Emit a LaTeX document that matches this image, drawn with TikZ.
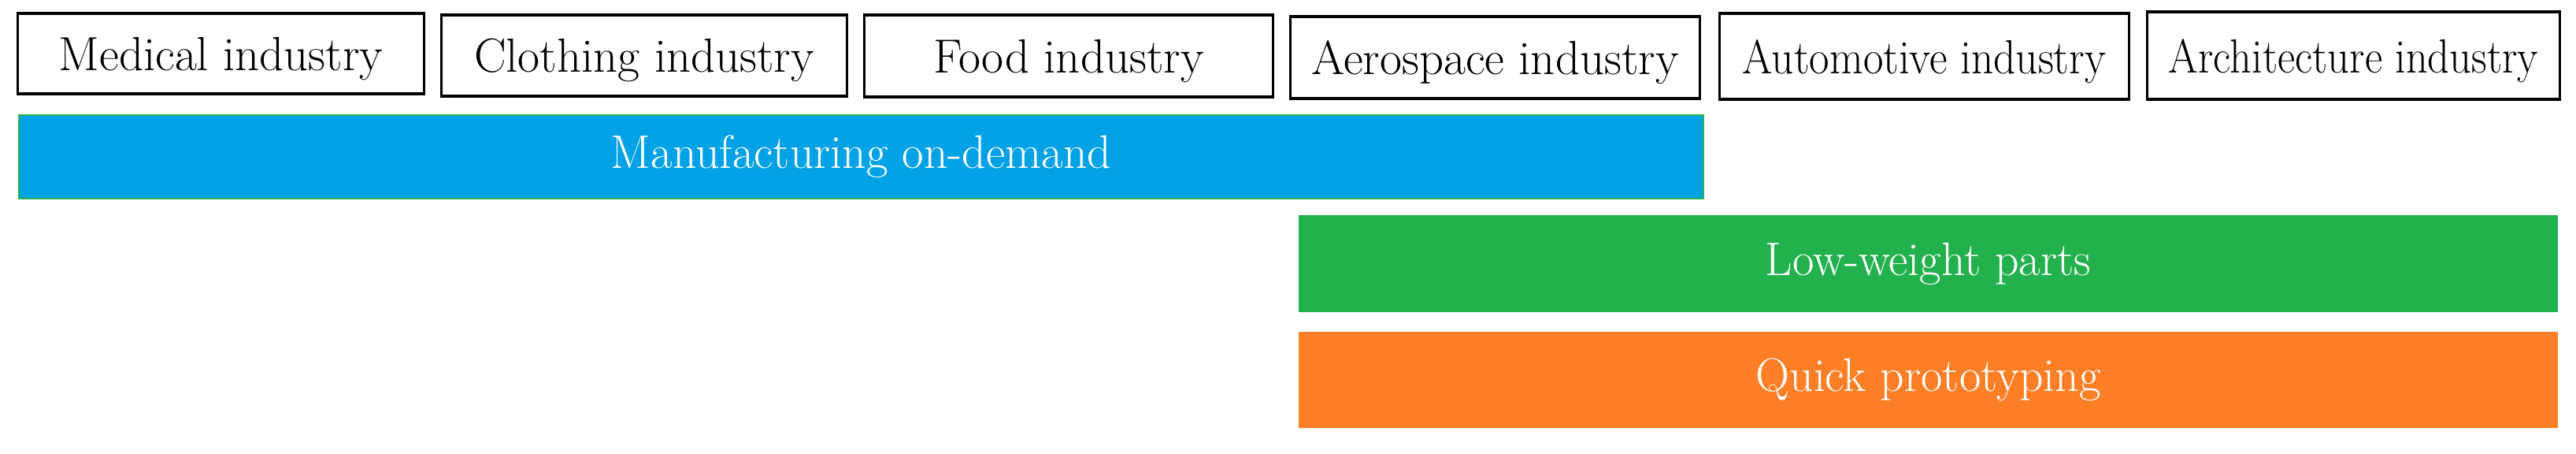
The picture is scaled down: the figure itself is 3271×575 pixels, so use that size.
\documentclass[tikz,border=0pt]{standalone}
\usepackage{graphicx}
\definecolor{mblue}{RGB}{0,162,229}
\definecolor{mgreen}{RGB}{34,177,76}
\definecolor{morange}{RGB}{255,127,39}
\definecolor{bluebord}{RGB}{40,180,80}
\begin{document}
\begin{tikzpicture}[x=0.01cm,y=-0.01cm,
  ind/.style={draw=black,line width=0.9pt,fill=white,inner sep=0pt,text depth=0pt,font=\fontsize{17.3}{20}\selectfont},
  bar/.style={inner sep=0pt,text=white,font=\fontsize{17}{20}\selectfont}]
\useasboundingbox (0,0) rectangle (3271,575);
\fill[white] (0,0) rectangle (3271,575);
% industry boxes
\node[ind,minimum width=5.15cm,minimum height=1.02cm] (med) at (280.5,68) {Medical industry};
\node[ind,minimum width=5.14cm,minimum height=1.03cm] (clo) at (818,70.5) {Clothing industry};
\node[ind,minimum width=5.18cm,minimum height=1.04cm] (food) at (1357,71) {Food industry};
\node[ind,minimum width=5.19cm,minimum height=1.04cm] (aero) at (1898.5,73) {Aerospace industry};
\node[ind,minimum width=5.19cm,minimum height=1.09cm] (auto) at (2443.5,71.5) {\scalebox{0.91}[1]{Automotive industry}};
\node[ind,minimum width=5.23cm,minimum height=1.11cm] (arch) at (2988.5,70.5) {\scalebox{0.895}[1]{Architecture industry}};
% bars
\node[bar,fill=mblue,draw=bluebord,line width=0.6pt,minimum width=21.37cm,minimum height=1.06cm] (mod) at (1093.5,199) {Manufacturing on-demand};
\node[bar,fill=mgreen,minimum width=15.99cm,minimum height=1.23cm] (lw) at (2448.5,334.5) {Low-weight parts};
\node[bar,fill=morange,minimum width=15.99cm,minimum height=1.22cm] (qp) at (2448.5,482) {Quick prototyping};
\end{tikzpicture}
\end{document}
